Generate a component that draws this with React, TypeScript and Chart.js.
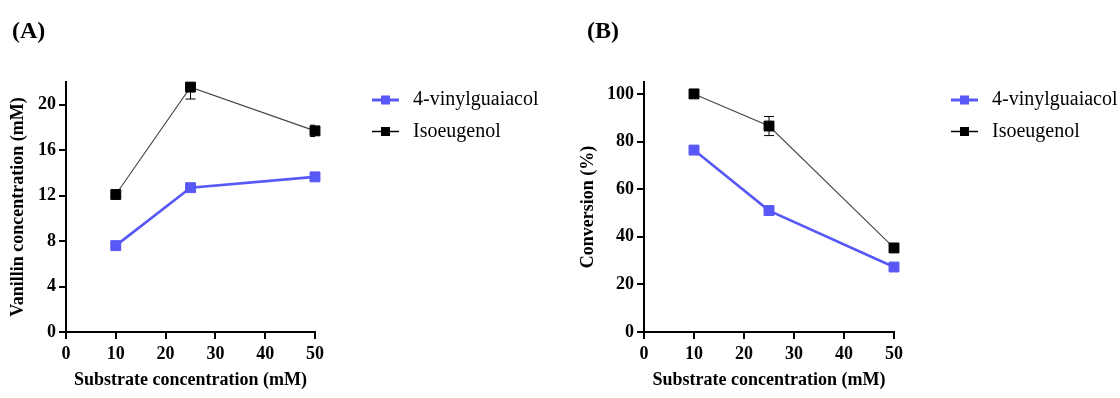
import React, { useEffect, useRef } from 'react';
import { Chart, registerables } from 'chart.js';

Chart.register(...registerables);

// ---------- data ----------
const substrateConc = [10, 25, 50];
const xTickValues = [0, 10, 20, 30, 40, 50];
const seriesNames = ['4-vinylguaiacol', 'Isoeugenol'];

const vanillinVinylguaiacol = [7.6, 12.7, 13.65];
const vanillinVinylguaiacolErr = [0.15, 0.2, 0.15];
const vanillinIsoeugenol = [12.1, 21.55, 17.7];
const vanillinIsoeugenolErr = [0.2, 1.05, 0.5];
const vanillinTicks = [0, 4, 8, 12, 16, 20];

const conversionVinylguaiacol = [76.4, 51.0, 27.3];
const conversionVinylguaiacolErr = [0.8, 1.0, 0.8];
const conversionIsoeugenol = [100, 86.5, 35.3];
const conversionIsoeugenolErr = [0.5, 4.0, 1.0];
const conversionTicks = [0, 20, 40, 60, 80, 100];

// ---------- styles ----------
const SERIF = "'Liberation Serif', 'Times New Roman', serif";
const BLUE = '#5858F6';
const DARK = '#444444';

type PanelProps = {
  left: number;
  label: string;
  labelX: number;
  yTitle: string;
  yMax: number;
  yTicks: number[];
  vinyl: number[];
  vinylErr: number[];
  iso: number[];
  isoErr: number[];
  yAxisWidth: number;
  rightPad: number;
  yTitlePad: number;
};

function Panel(p: PanelProps) {
  const ref = useRef<HTMLCanvasElement | null>(null);

  useEffect(() => {
    if (!ref.current) return;
    const errors = [p.vinylErr, p.isoErr];

    const errorBars = {
      id: 'errorBars',
      beforeDatasetsDraw(chart: any) {
        const { ctx, chartArea, scales } = chart;
        ctx.save();
        ctx.beginPath();
        ctx.rect(chartArea.left, chartArea.top, chartArea.right - chartArea.left, chartArea.bottom - chartArea.top);
        ctx.clip();
        ctx.strokeStyle = '#000';
        ctx.lineWidth = 1;
        chart.data.datasets.forEach((ds: any, di: number) => {
          ds.data.forEach((pt: any, i: number) => {
            const e = errors[di][i];
            const x = scales.x.getPixelForValue(pt.x);
            const yT = scales.y.getPixelForValue(pt.y + e);
            const yB = scales.y.getPixelForValue(pt.y - e);
            ctx.beginPath();
            ctx.moveTo(x, yT);
            ctx.lineTo(x, yB);
            ctx.moveTo(x - 5, yT);
            ctx.lineTo(x + 5, yT);
            ctx.moveTo(x - 5, yB);
            ctx.lineTo(x + 5, yB);
            ctx.stroke();
          });
        });
        ctx.restore();
      },
    };

    const legendAndTitle = {
      id: 'legendAndTitle',
      afterDraw(chart: any) {
        const { ctx, chartArea } = chart;
        ctx.save();
        const x0 = chartArea.right + 57;
        const rows = [100, 131.5];
        chart.data.datasets.forEach((ds: any, i: number) => {
          const y = rows[i];
          ctx.strokeStyle = i === 0 ? BLUE : '#000';
          ctx.lineWidth = i === 0 ? 3 : 1.5;
          ctx.beginPath();
          ctx.moveTo(x0, y);
          ctx.lineTo(x0 + 27, y);
          ctx.stroke();
          ctx.fillStyle = i === 0 ? BLUE : '#000';
          ctx.fillRect(x0 + 13.5 - 4.5, y - 4.5, 9, 9);
          ctx.fillStyle = '#000';
          ctx.font = `20px ${SERIF}`;
          ctx.textBaseline = 'middle';
          ctx.textAlign = 'left';
          ctx.fillText(ds.label, x0 + 41, y);
        });
        ctx.font = `bold 24px ${SERIF}`;
        ctx.textBaseline = 'alphabetic';
        ctx.fillText(p.label, p.labelX, 38);
        ctx.restore();
      },
    };

    const tickFont = { family: SERIF, size: 18, weight: 'bold' as const };
    const titleFont = { family: SERIF, size: 18, weight: 'bold' as const };

    const chart = new Chart(ref.current, {
      type: 'line',
      data: {
        datasets: [
          {
            label: seriesNames[0],
            data: substrateConc.map((x, i) => ({ x, y: p.vinyl[i] })),
            borderColor: BLUE,
            backgroundColor: BLUE,
            borderWidth: 2.6,
            pointStyle: 'rect',
            pointRadius: 7,
            pointBorderWidth: 1,
            pointBorderColor: BLUE,
            pointBackgroundColor: BLUE,
            clip: false as any,
          },
          {
            label: seriesNames[1],
            data: substrateConc.map((x, i) => ({ x, y: p.iso[i] })),
            borderColor: DARK,
            backgroundColor: '#000',
            borderWidth: 1.1,
            pointStyle: 'rect',
            pointRadius: 7,
            pointBorderWidth: 1,
            pointBorderColor: '#000',
            pointBackgroundColor: '#000',
            clip: false as any,
          },
        ],
      },
      options: {
        responsive: false,
        maintainAspectRatio: false,
        animation: false,
        layout: { padding: { left: 0, top: 82, right: p.rightPad, bottom: 0 } },
        plugins: { legend: { display: false }, tooltip: { enabled: false } },
        scales: {
          x: {
            type: 'linear',
            min: 0,
            max: 50,
            afterBuildTicks: (s: any) => {
              s.ticks = xTickValues.map((v) => ({ value: v }));
            },
            afterFit: (s: any) => {
              s.height = 66;
            },
            ticks: { font: tickFont, color: '#000', padding: 5 },
            grid: { drawOnChartArea: false, drawTicks: true, tickLength: 7, color: '#000', lineWidth: 2 },
            border: { display: true, color: '#000', width: 2 },
            title: { display: true, text: 'Substrate concentration (mM)', font: titleFont, color: '#000', padding: { top: 0, bottom: 7 } },
          },
          y: {
            type: 'linear',
            min: 0,
            max: p.yMax,
            afterBuildTicks: (s: any) => {
              s.ticks = p.yTicks.map((v) => ({ value: v }));
            },
            afterFit: (s: any) => {
              s.width = p.yAxisWidth;
            },
            ticks: { font: tickFont, color: '#000', padding: 3 },
            grid: { drawOnChartArea: false, drawTicks: true, tickLength: 7, color: '#000', lineWidth: 2 },
            border: { display: true, color: '#000', width: 2 },
            title: { display: true, text: p.yTitle, font: titleFont, color: '#000', padding: { top: p.yTitlePad, bottom: 0 } },
          },
        },
      } as any,
      plugins: [errorBars, legendAndTitle],
    });
    return () => chart.destroy();
  }, []);

  return (
    <div style={{ position: 'absolute', left: p.left, top: 0, width: 560, height: 398 }}>
      <canvas ref={ref} width={560} height={398} style={{ display: 'block' }} />
    </div>
  );
}

export default function App() {
  return (
    <div style={{ position: 'absolute', left: 0, top: 0, width: 1120, height: 398, background: '#fff', overflow: 'hidden' }}>
      <Panel
        left={0}
        label="(A)"
        labelX={12}
        yTitle="Vanillin concentration (mM)"
        yMax={22}
        yTicks={vanillinTicks}
        vinyl={vanillinVinylguaiacol}
        vinylErr={vanillinVinylguaiacolErr}
        iso={vanillinIsoeugenol}
        isoErr={vanillinIsoeugenolErr}
        yAxisWidth={66}
        rightPad={245}
        yTitlePad={8}
      />
      <Panel
        left={560}
        label="(B)"
        labelX={27}
        yTitle="Conversion (%)"
        yMax={105}
        yTicks={conversionTicks}
        vinyl={conversionVinylguaiacol}
        vinylErr={conversionVinylguaiacolErr}
        iso={conversionIsoeugenol}
        isoErr={conversionIsoeugenolErr}
        yAxisWidth={84}
        rightPad={226}
        yTitlePad={18}
      />
    </div>
  );
}
